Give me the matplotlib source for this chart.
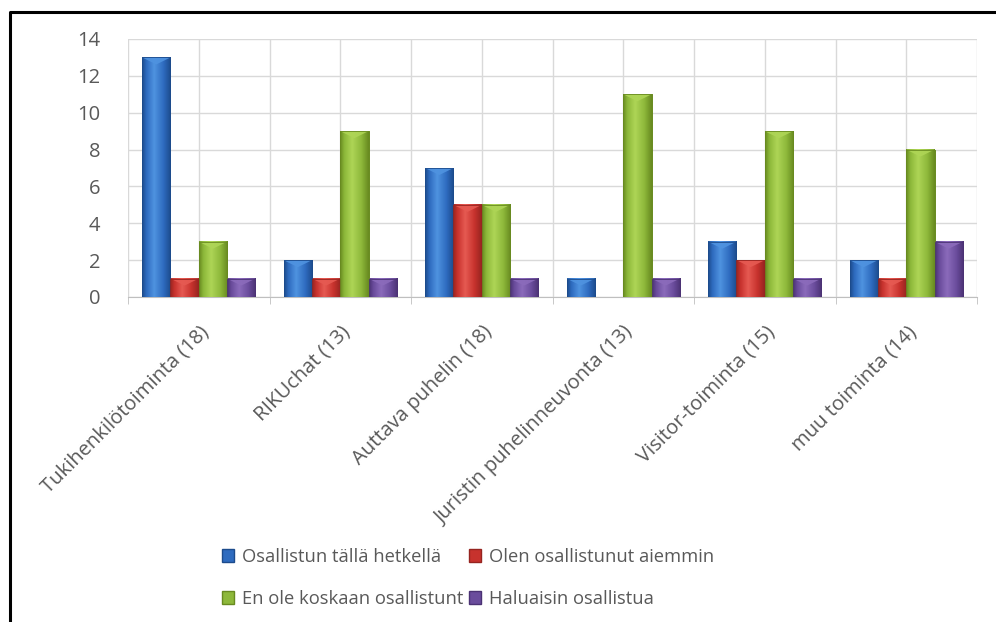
import numpy as np
import matplotlib.pyplot as plt
from matplotlib.colors import LinearSegmentedColormap
from matplotlib.patches import Patch, Polygon
from matplotlib.lines import Line2D

plt.rcParams['font.family'] = ['Open Sans', 'DejaVu Sans']

categories = ['Tukihenkilötoiminta (18)', 'RIKUchat (13)', 'Auttava puhelin (18)',
              'Juristin puhelinneuvonta (13)', 'Visitor-toiminta (15)', 'muu toiminta (14)']
series_names = ['Osallistun tällä hetkellä', 'Olen osallistunut aiemmin',
                'En ole koskaan osallistunt', 'Haluaisin osallistua']
osallistun = [13, 2, 7, 1, 3, 2]
olen = [1, 1, 5, 0, 2, 1]
en_ole = [3, 9, 5, 11, 9, 8]
haluaisin = [1, 1, 1, 1, 1, 3]
values = [osallistun, olen, en_ole, haluaisin]

# dark edge, mid, highlight
shades = [
    ('#1c4b8c', '#2e6bbf', '#4f93e0'),
    ('#962420', '#c7322d', '#e65a52'),
    ('#688a20', '#8db83a', '#aed556'),
    ('#4b3274', '#6a4c9c', '#8b6bbb'),
]

fig = plt.figure(figsize=(9.96, 6.22), dpi=100)
ax = fig.add_axes([128/996, 1 - 297/622, (977-128)/996, (297-39)/622])

x = np.arange(len(categories))
w = 0.2
grad = np.linspace(0, 1, 64).reshape(1, -1)
bev = 14 * 7 / 258
for i, (vals, (dk, md, lt)) in enumerate(zip(values, shades)):
    cmap = LinearSegmentedColormap.from_list('c%d' % i, [(0, dk), (0.15, md), (0.42, lt), (0.75, md), (1, dk)])
    bars = ax.bar(x - 0.4 + w * (i + 0.5), vals, w, color=md, edgecolor=dk, linewidth=0.6, zorder=2)
    for b in bars:
        h = b.get_height()
        if h <= 0:
            continue
        x0 = b.get_x()
        x1 = x0 + b.get_width()
        ax.imshow(grad, cmap=cmap, extent=[x0, x1, 0, h], aspect='auto', zorder=3, interpolation='bilinear')
        ax.add_patch(Polygon([(x0, h), (x1, h), ((x0 + x1) / 2, h - bev)], closed=True,
                             facecolor=lt, edgecolor='none', alpha=0.9, zorder=4))
        ax.add_patch(plt.Rectangle((x0, 0), x1 - x0, h, fill=False, edgecolor=dk, linewidth=0.6, zorder=5))

ax.set_xlim(-0.5, len(categories) - 0.5)
ax.set_ylim(0, 14)
ax.set_yticks(range(0, 15, 2))
ax.set_xticks(x)
ax.set_xticks(np.arange(-0.5, len(categories), 1), minor=True)
ax.set_xticklabels(categories, rotation=45, ha='right', rotation_mode='anchor', fontsize=14.5, color='#595959')
ax.tick_params(axis='x', which='major', length=0, pad=18)
ax.tick_params(axis='x', which='minor', length=5, color='#bfbfbf', direction='out')
ax.tick_params(axis='y', length=0, pad=20, labelsize=14.5, labelcolor='#595959')
ax.grid(True, which='both', color='#d9d9d9', linewidth=1, zorder=0)
ax.set_axisbelow(True)
for s in ['top', 'right', 'left']:
    ax.spines[s].set_visible(False)
ax.spines['bottom'].set_color('#bfbfbf')

handles = [Patch(facecolor=md, edgecolor=dk) for dk, md, lt in shades]
order = [0, 2, 1, 3]
fig.legend([handles[k] for k in order], [series_names[k] for k in order], ncol=2,
           loc='upper left', bbox_to_anchor=(205/996, 1 - 531/622), frameon=False,
           fontsize=13.2, labelcolor='#595959', handlelength=0.7, handleheight=0.7,
           handletextpad=0.4, columnspacing=0.3, labelspacing=1.35)

fig.add_artist(Line2D([10/996, 10/996, 1], [0, 1 - 12/622, 1 - 12/622], transform=fig.transFigure,
                      color='black', linewidth=2.2))

fig.savefig('out.png', dpi=100)
